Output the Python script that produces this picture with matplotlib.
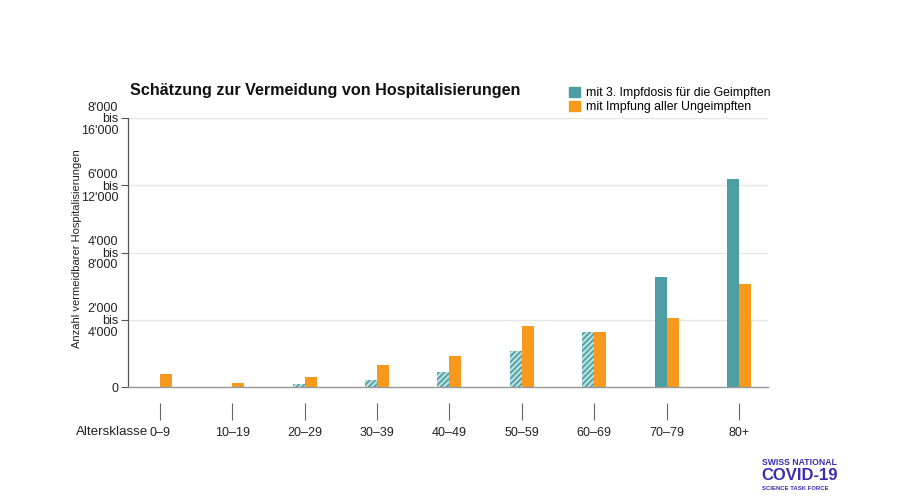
import numpy as np
import matplotlib.pyplot as plt
from matplotlib.patches import Patch

# Data
age_classes = ["0–9", "10–19", "20–29", "30–39", "40–49", "50–59", "60–69", "70–79", "80+"]
booster = [0, 15, 90, 215, 440, 1060, 1630, 3280, 6200]
vaccinate_all = [385, 120, 305, 660, 910, 1805, 1630, 2065, 3060]
booster_hatched = [True, True, True, True, True, True, True, False, False]
ytick_vals = [0, 2000, 4000, 6000, 8000]
ytick_labels = ["0", "2'000\nbis\n4'000", "4'000\nbis\n8'000", "6'000\nbis\n12'000", "8'000\nbis\n16'000"]

teal = "#4c9ea3"
teal_light = "#b9dfe0"
orange = "#f7991c"
purple = "#3b2db0"

plt.rcParams['font.family'] = ['Liberation Sans', 'DejaVu Sans']
plt.rcParams['hatch.linewidth'] = 1.2

fig = plt.figure(figsize=(9, 5.03), dpi=100)
ax = fig.add_axes([0.1422, 0.2306, 0.7111, 0.5348])

x = np.arange(len(age_classes))
w = 0.165
for xi, v, h in zip(x, booster, booster_hatched):
    if h:
        ax.bar(xi - w / 2, v, width=w, facecolor=teal_light, edgecolor=teal,
               hatch="//////", linewidth=0)
    else:
        ax.bar(xi - w / 2, v, width=w, color=teal, linewidth=0)
ax.bar(x + w / 2, vaccinate_all, width=w, color=orange, linewidth=0)

ax.set_xlim(-0.44, 8.40)
ax.set_ylim(0, 8000)
ax.set_yticks(ytick_vals)
ax.set_yticklabels(ytick_labels, fontsize=9, linespacing=0.95, color="#222222")
ax.tick_params(axis="y", length=5, width=0.8, color="#555555", pad=2)
ax.yaxis.grid(True, color="#e6e6e6", linewidth=1)
ax.set_axisbelow(True)

ax.set_xticks([])
for s in ["top", "right"]:
    ax.spines[s].set_visible(False)
ax.spines["left"].set_color("#555555")
ax.spines["left"].set_linewidth(0.9)
ax.spines["bottom"].set_color("#999999")
ax.spines["bottom"].set_linewidth(1)

# detached tick marks and labels below the axis
sec = ax.secondary_xaxis(-0.06)
sec.set_xticks(x)
sec.set_xticklabels(age_classes, fontsize=9, color="#222222")
sec.tick_params(axis="x", length=12, width=0.8, color="#666666", pad=5)
sec.spines["bottom"].set_visible(False)

fig.text(0.165, 0.141, "Altersklasse", fontsize=9.6, ha="right", va="center", color="#222222")

fig.text(0.086, 0.505, "Anzahl vermeidbarer Hospitalisierungen", rotation=90,
         fontsize=8, ha="center", va="center", color="#222222")

fig.text(0.144, 0.82, "Schätzung zur Vermeidung von Hospitalisierungen",
         fontsize=11.6, fontweight="bold", ha="left", va="center", color="#111111")

handles = [Patch(color=teal, label="mit 3. Impfdosis für die Geimpften"),
           Patch(color=orange, label="mit Impfung aller Ungeimpften")]
fig.legend(handles=handles, loc="upper left", bbox_to_anchor=(0.632, 0.828),
           frameon=False, fontsize=8.8, handlelength=0.9, handleheight=0.9,
           handletextpad=0.5, labelspacing=0.15, borderpad=0, borderaxespad=0)

# logo text
fig.text(0.847, 0.081, "SWISS NATIONAL", fontsize=6.2, color=purple,
         fontweight="bold", ha="left", va="center")
fig.text(0.846, 0.054, "COVID-19", fontsize=12, color=purple,
         fontweight="heavy", ha="left", va="center")
fig.text(0.847, 0.029, "SCIENCE TASK FORCE", fontsize=4.3, color=purple,
         fontweight="bold", ha="left", va="center")

fig.savefig("out.png", dpi=100, facecolor="white")
